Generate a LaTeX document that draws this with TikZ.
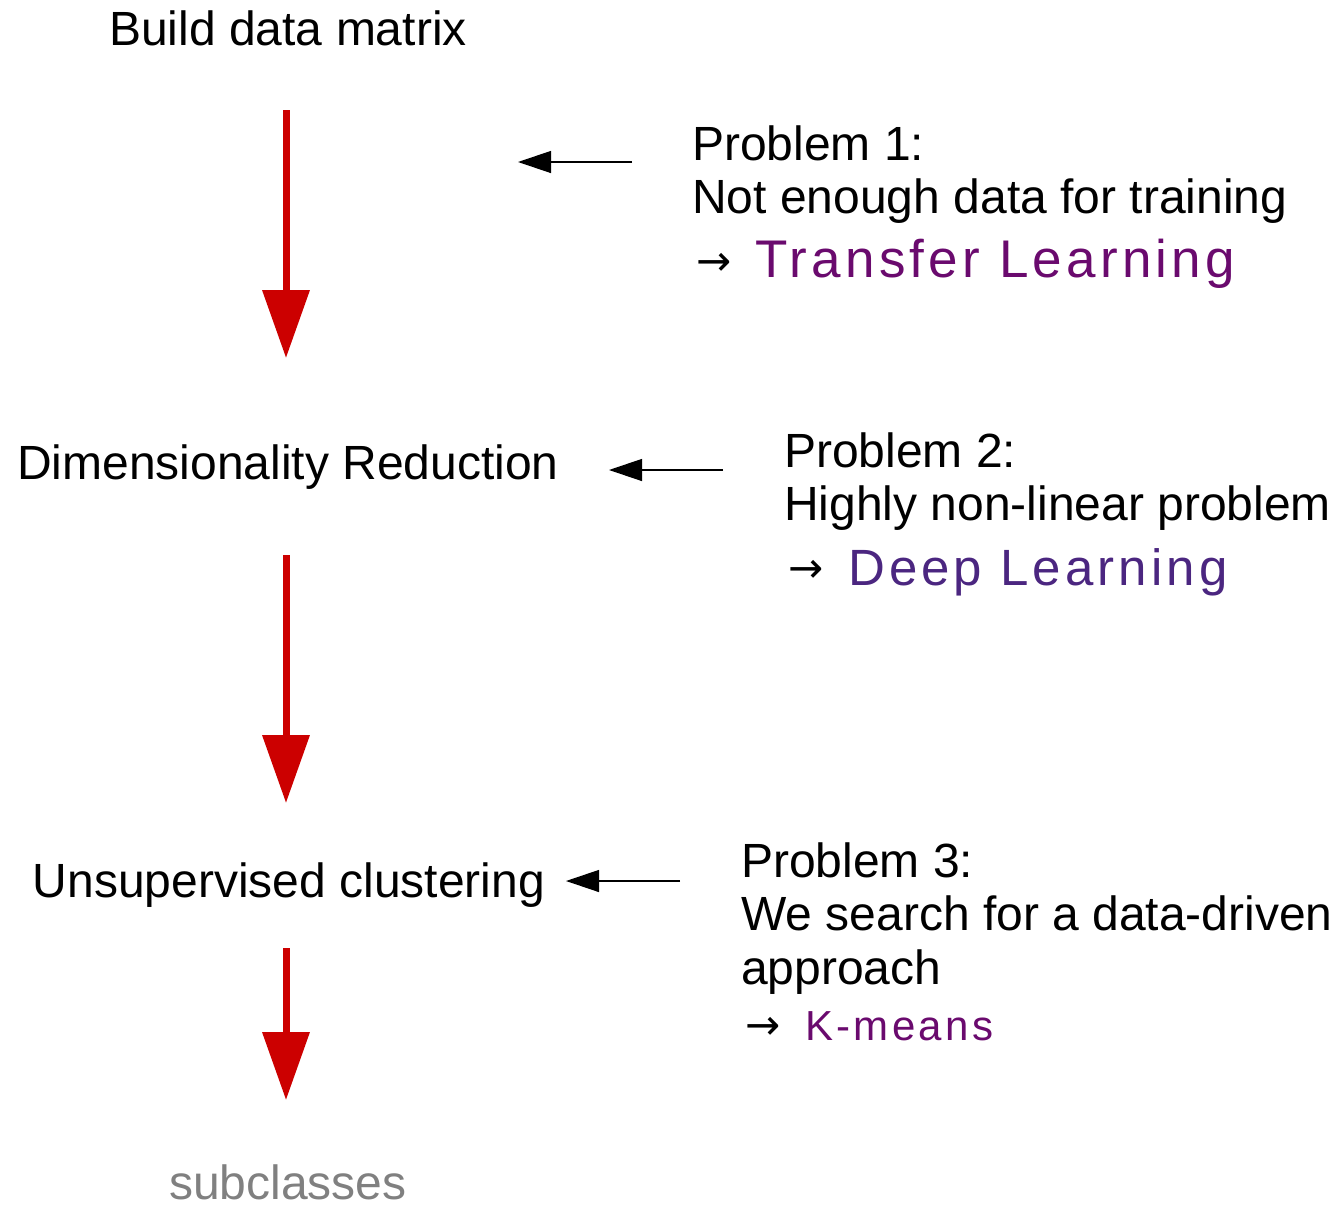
\documentclass[tikz,border=0pt]{standalone}
\usepackage{fontspec}
\setmainfont{Liberation Sans}
\newfontfamily\handfont[LetterSpace=8]{Liberation Sans}
\newfontfamily\symfont{DejaVu Sans}
\usetikzlibrary{arrows.meta}
\definecolor{redarrow}{HTML}{CC0000}
\definecolor{handpurple}{HTML}{6A0A6E}
\definecolor{handviolet}{HTML}{4B2680}
\definecolor{subgray}{HTML}{808080}
\tikzset{
  txt/.style={inner sep=0pt, font=\fontsize{48}{53}\selectfont},
  ptxt/.style={txt, anchor=base west},
  hand/.style={inner sep=0pt, anchor=base west, font=\handfont\fontsize{53}{53}\selectfont},
  smallarrow/.style={inner sep=0pt, anchor=base west, font=\symfont\fontsize{42}{42}\selectfont},
  redflow/.style={draw=redarrow, line width=7pt, -{Triangle[length=68pt,width=46pt]}, redarrow},
  blkarrow/.style={draw=black, line width=1.3pt, -{Triangle[length=33pt,width=22pt]}},
}
\begin{document}
\begin{tikzpicture}[x=1pt,y=-1pt]
\useasboundingbox (0,0) rectangle (1336,1205);
% left column
\node[txt, anchor=base] (build) at (288,45) {Build data matrix};
\node[txt, anchor=base] (dim) at (288,479) {Dimensionality Reduction};
\node[txt, anchor=base] (unsup) at (289,897) {Unsupervised clustering};
\node[txt, anchor=base, text=subgray, text depth=0pt] (sub) at (288,1199) {subclasses};
% red flow arrows
\coordinate (r1s) at (286,110); \coordinate (r1e) at (286,358);
\coordinate (r2s) at (286,555); \coordinate (r2e) at (286,803);
\coordinate (r3s) at (286,948); \coordinate (r3e) at (286,1100);
\draw[redflow] (r1s) -- (r1e);
\draw[redflow] (r2s) -- (r2e);
\draw[redflow] (r3s) -- (r3e);
% problem 1
\node[ptxt] (p1a) at (692,160) {Problem 1:};
\node[ptxt] (p1b) at (692,213) {Not enough data for training};
\node[smallarrow] (p1arr) at (696,275) {→};
\node[hand, text=handpurple] (p1c) at (755,277) {Transfer Learning};
% problem 2
\node[ptxt] (p2a) at (784,467) {Problem 2:};
\node[ptxt] (p2b) at (784,520) {Highly non-linear problem};
\node[smallarrow] (p2arr) at (788,582) {→};
\node[hand, text=handviolet, font=\handfont\fontsize{51}{51}\selectfont] (p2c) at (848,585) {Deep Learning};
% problem 3
\node[ptxt] (p3a) at (741,877) {Problem 3:};
\node[ptxt] (p3b) at (741,930) {We search for a data-driven};
\node[ptxt] (p3c) at (741,984) {approach};
\node[smallarrow] (p3arr) at (745,1039) {→};
\node[hand, text=handpurple, font=\handfont\fontsize{42}{42}\selectfont] (p3d) at (805,1040) {K-means};
% black pointer arrows
\coordinate (b1s) at (632,162); \coordinate (b1e) at (518,162);
\coordinate (b2s) at (723,470); \coordinate (b2e) at (609,470);
\coordinate (b3s) at (680,881); \coordinate (b3e) at (566,881);
\draw[blkarrow] (b1s) -- (b1e);
\draw[blkarrow] (b2s) -- (b2e);
\draw[blkarrow] (b3s) -- (b3e);
\end{tikzpicture}
\end{document}
